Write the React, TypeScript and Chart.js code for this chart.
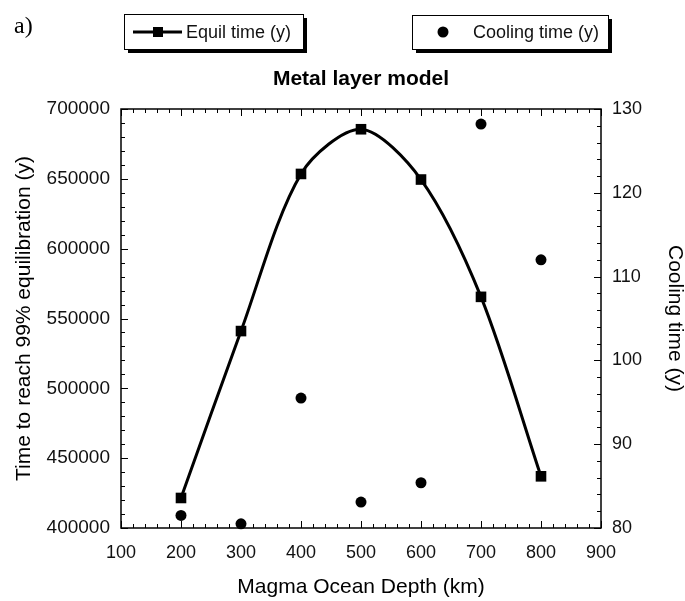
import React, { useEffect, useRef } from "react";
import { Chart, registerables } from "chart.js";

Chart.register(...registerables);

const depths = [200, 300, 400, 500, 600, 700, 800];
const equilTime = [421500, 541000, 653500, 685500, 649500, 565500, 437000];
const coolingTime = [81.5, 80.5, 95.5, 83.1, 85.4, 128.2, 112.0];

const xTicks = [100, 200, 300, 400, 500, 600, 700, 800, 900];
const yLeftTicks = [400000, 450000, 500000, 550000, 600000, 650000, 700000];
const yRightTicks = [80, 90, 100, 110, 120, 130];

const FONT = '"Liberation Sans", Arial, sans-serif';

const decorPlugin = {
  id: "decor",
  beforeDatasetsDraw(chart: any) {
    const { ctx, chartArea: a, scales } = chart;
    ctx.save();
    ctx.strokeStyle = "#000";
    ctx.lineWidth = 1;
    const major = 7;
    const minor = 4;
    const xs = scales.x;
    for (let v = xTicks[0]; v <= xTicks[xTicks.length - 1] + 0.001; v += 20) {
      const isMajor = Math.abs(v % 100) < 0.001;
      const len = isMajor ? major : minor;
      const px = Math.round(xs.getPixelForValue(v)) + 0.5;
      ctx.beginPath();
      ctx.moveTo(px, a.bottom);
      ctx.lineTo(px, a.bottom - len);
      ctx.moveTo(px, a.top);
      ctx.lineTo(px, a.top + len);
      ctx.stroke();
    }
    const yl = scales.y;
    for (let v = yLeftTicks[0]; v <= yLeftTicks[yLeftTicks.length - 1] + 1; v += 10000) {
      const isMajor = Math.abs(v % 50000) < 1;
      const len = isMajor ? major : minor;
      const py = Math.round(yl.getPixelForValue(v)) + 0.5;
      ctx.beginPath();
      ctx.moveTo(a.left, py);
      ctx.lineTo(a.left + len, py);
      ctx.stroke();
    }
    const yr = scales.y1;
    for (let v = yRightTicks[0]; v <= yRightTicks[yRightTicks.length - 1] + 0.001; v += 2) {
      const isMajor = Math.abs(v % 10) < 0.001;
      const len = isMajor ? major : minor;
      const py = Math.round(yr.getPixelForValue(v)) + 0.5;
      ctx.beginPath();
      ctx.moveTo(a.right, py);
      ctx.lineTo(a.right - len, py);
      ctx.stroke();
    }
    ctx.lineWidth = 1.5;
    ctx.strokeRect(a.left, a.top, a.right - a.left, a.bottom - a.top);
    ctx.restore();
  },
  afterDraw(chart: any) {
    const { ctx, chartArea: a } = chart;
    ctx.save();
    ctx.fillStyle = "#000";
    ctx.font = '24px "Liberation Serif", "Times New Roman", serif';
    ctx.textBaseline = "alphabetic";
    ctx.textAlign = "left";
    ctx.fillText("a)", 14, 33);

    ctx.font = `bold 21px ${FONT}`;
    ctx.textAlign = "center";
    ctx.textBaseline = "middle";
    ctx.fillText("Metal layer model", (a.left + a.right) / 2, 79);

    const drawBox = (x: number, y: number, w: number, h: number) => {
      ctx.fillStyle = "#000";
      ctx.fillRect(x + 4, y + 4, w, h);
      ctx.fillStyle = "#fff";
      ctx.fillRect(x, y, w, h);
      ctx.strokeStyle = "#000";
      ctx.lineWidth = 1;
      ctx.strokeRect(x + 0.5, y + 0.5, w, h);
    };

    drawBox(124, 14, 179, 35);
    ctx.strokeStyle = "#000";
    ctx.lineWidth = 3;
    ctx.beginPath();
    ctx.moveTo(133, 32);
    ctx.lineTo(182, 32);
    ctx.stroke();
    ctx.fillStyle = "#000";
    ctx.fillRect(153, 27, 10, 10);
    ctx.font = `18px ${FONT}`;
    ctx.textAlign = "left";
    ctx.textBaseline = "middle";
    ctx.fillStyle = "#111";
    ctx.fillText(chart.data.datasets[0].label, 186, 33);

    drawBox(412, 15, 196, 34);
    ctx.fillStyle = "#000";
    ctx.beginPath();
    ctx.arc(443, 32, 5.5, 0, Math.PI * 2);
    ctx.fill();
    ctx.fillStyle = "#111";
    ctx.fillText(chart.data.datasets[1].label, 473, 33);
    ctx.restore();
  },
};

export default function App() {
  const ref = useRef<HTMLCanvasElement>(null);
  useEffect(() => {
    if (!ref.current) return;
    const tickFont = { family: FONT, size: 18 };
    const chart = new Chart(ref.current, {
      type: "line",
      data: {
        datasets: [
          {
            label: "Equil time (y)",
            data: depths.map((d, i) => ({ x: d, y: equilTime[i] })),
            yAxisID: "y",
            borderColor: "#000",
            backgroundColor: "#000",
            borderWidth: 3,
            tension: 0.3,
            pointStyle: "rect",
            pointRadius: 7.5,
            pointBorderWidth: 0,
            fill: false,
            clip: false as any,
          },
          {
            label: "Cooling time (y)",
            data: depths.map((d, i) => ({ x: d, y: coolingTime[i] })),
            yAxisID: "y1",
            showLine: false,
            borderColor: "#000",
            backgroundColor: "#000",
            pointStyle: "circle",
            pointRadius: 5.5,
            pointBorderWidth: 0,
            clip: false as any,
          },
        ],
      },
      options: {
        animation: false,
        responsive: false,
        devicePixelRatio: 1,
        events: [],
        layout: { padding: { top: 109, left: 0, right: 0, bottom: 0 } },
        plugins: {
          legend: { display: false },
          tooltip: { enabled: false },
          title: { display: false },
        },
        scales: {
          x: {
            type: "linear",
            position: "bottom",
            min: xTicks[0],
            max: xTicks[xTicks.length - 1],
            afterBuildTicks: (s: any) => {
              s.ticks = xTicks.map((v) => ({ value: v }));
            },
            afterFit: (s: any) => {
              s.height = 73;
            },
            grid: { display: false, drawTicks: false },
            border: { display: false },
            ticks: {
              font: tickFont,
              color: "#111",
              padding: 14,
              maxRotation: 0,
              autoSkip: false,
              callback: (v: any) => String(v),
            },
            title: {
              display: true,
              text: "Magma Ocean Depth (km)",
              font: { family: FONT, size: 21, lineHeight: 1.2 },
              color: "#000",
              padding: { top: 0, bottom: 1 },
            },
          },
          y: {
            type: "linear",
            position: "left",
            min: yLeftTicks[0],
            max: yLeftTicks[yLeftTicks.length - 1],
            afterBuildTicks: (s: any) => {
              s.ticks = yLeftTicks.map((v) => ({ value: v }));
            },
            afterFit: (s: any) => {
              s.width = 121;
            },
            grid: { display: false, drawTicks: false },
            border: { display: false },
            ticks: {
              font: { family: FONT, size: 19 },
              color: "#111",
              padding: 11,
              autoSkip: false,
              callback: (v: any) => String(v),
            },
            title: {
              display: true,
              text: "Time to reach 99% equilibration (y)",
              font: { family: FONT, size: 21, lineHeight: 1.2 },
              color: "#000",
              padding: { top: 12, bottom: 0 },
            },
          },
          y1: {
            type: "linear",
            position: "right",
            min: yRightTicks[0],
            max: yRightTicks[yRightTicks.length - 1],
            afterBuildTicks: (s: any) => {
              s.ticks = yRightTicks.map((v) => ({ value: v }));
            },
            afterFit: (s: any) => {
              s.width = 84;
            },
            grid: { display: false, drawTicks: false },
            border: { display: false },
            ticks: {
              font: tickFont,
              color: "#111",
              padding: 11,
              autoSkip: false,
              callback: (v: any) => String(v),
            },
            title: {
              display: true,
              text: "Cooling time (y)",
              font: { family: FONT, size: 21, lineHeight: 1.0 },
              color: "#000",
              padding: { top: 0, bottom: 0 },
            },
          },
        },
      } as any,
      plugins: [decorPlugin],
    });
    return () => chart.destroy();
  }, []);
  return (
    <div style={{ position: "absolute", left: 0, top: 0, width: 685, height: 601, background: "#fff" }}>
      <canvas ref={ref} width={685} height={601} style={{ display: "block" }} />
    </div>
  );
}
